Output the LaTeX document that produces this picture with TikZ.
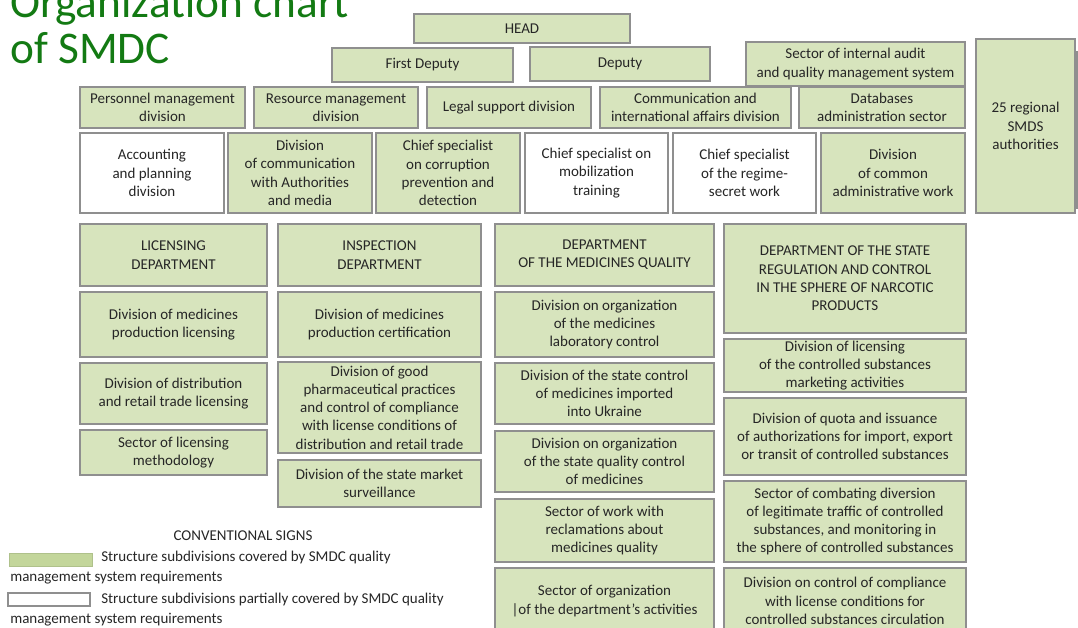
\documentclass[tikz,border=0pt]{standalone}
\usepackage{fontspec}
\setmainfont{Carlito}
\usepackage{tikz}
\definecolor{UnitGreen}{HTML}{D7E4BD}
\definecolor{UnitBorder}{HTML}{8F8F8F}
\definecolor{SignGreen}{HTML}{C3D69B}
\definecolor{TitleGreen}{HTML}{137A13}
\definecolor{InkGray}{HTML}{262626}

\begin{document}
\begin{tikzpicture}[x=0.75pt, y=-0.75pt,
  boxsize/.style 2 args={minimum width=#1*0.75pt, minimum height=#2*0.75pt},
  unit/.style={draw=UnitBorder, line width=1.1pt, fill=UnitGreen, inner sep=0pt,
    align=center, text=InkGray, font=\fontsize{11.25}{13.7}\selectfont},
  partial/.style={unit, fill=white},
  signtext/.style={inner sep=0pt, text=InkGray, font=\fontsize{11.25}{13.7}\selectfont},
  heading/.style={inner sep=0pt, anchor=base west, text=TitleGreen, font=\fontsize{34}{34}\selectfont}]

 \useasboundingbox (0,0) rectangle (1078,628);
 \clip (0,0) rectangle (1078,628);

 \node[heading] (titleTop) at (10,17) {Organization chart};
 \node[heading] (titleBottom) at (10,63) {of SMDC};

 % management
 \node[unit, boxsize={216}{29}] (head) at (522,28.5) {HEAD};
 \node[unit, boxsize={181}{34}] (firstDeputy) at (422.5,65) {First Deputy};
 \node[unit, boxsize={180}{34}] (deputy) at (620,64) {Deputy};
 \node[unit, boxsize={219}{44}] (auditSector) at (855.5,64) {Sector of internal audit\\and quality management system};

 \node[unit, boxsize={165}{41}] (personnel) at (162.5,107.5) {Personnel management\\division};
 \node[unit, boxsize={164}{41}] (resource) at (336,107.5) {Resource management\\division};
 \node[unit, boxsize={164}{41}] (legal) at (509,107.5) {Legal support division};
 \node[unit, boxsize={191}{41}] (communication) at (695.5,107.5) {Communication and\\international affairs division};
 \node[unit, boxsize={166}{41}] (databases) at (882,107.5) {Databases\\administration sector};

 \node[partial, boxsize={144}{80}] (accounting) at (152,173) {Accounting\\and planning\\division};
 \node[unit, boxsize={144}{80}] (authoritiesComm) at (300,173) {Division\\of communication\\with Authorities\\and media};
 \node[unit, boxsize={144}{80}] (corruption) at (448,173) {Chief specialist\\on corruption\\prevention and\\detection};
 \node[partial, boxsize={143}{80}] (mobilization) at (596.5,173) {Chief specialist on\\mobilization\\training};
 \node[partial, boxsize={143}{80}] (regime) at (744.5,173) {Chief specialist\\of the regime-\\secret work};
 \node[unit, boxsize={144}{80}] (commonWork) at (893,173) {Division\\of common\\administrative work};

 \node[unit, boxsize={83}{156}] (regionalNext) at (1118.5,130) {};
 \node[unit, boxsize={99}{174}] (regional) at (1025.5,126) {25 regional\\SMDS\\authorities};

 % departments
 \node[unit, boxsize={187}{62}] (licensing) at (173.5,255) {LICENSING\\DEPARTMENT};
 \node[unit, boxsize={187}{65}] (licProduction) at (173.5,324.5) {Division of medicines\\production licensing};
 \node[unit, boxsize={187}{61}] (licDistribution) at (173.5,393.5) {Division of distribution\\and retail trade licensing};
 \node[unit, boxsize={187}{45}] (licMethodology) at (173.5,452.5) {Sector of licensing\\methodology};

 \node[unit, boxsize={203}{62}] (inspection) at (379.5,255) {INSPECTION\\DEPARTMENT};
 \node[unit, boxsize={203}{65}] (inspCertification) at (379.5,324.5) {Division of medicines\\production certification};
 \node[unit, boxsize={203}{91}] (inspPractices) at (379.5,407.5) {Division of good\\pharmaceutical practices\\and control of compliance\\with license conditions of\\distribution and retail trade};
 \node[unit, boxsize={203}{47}] (inspMarket) at (379.5,483.5) {Division of the state market\\surveillance};

 \node[unit, boxsize={219}{62}] (quality) at (604.5,255) {DEPARTMENT\\OF THE MEDICINES QUALITY};
 \node[unit, boxsize={219}{65}] (qualLab) at (604.5,324.5) {Division on organization\\of the medicines\\laboratory control};
 \node[unit, boxsize={219}{61}] (qualImport) at (604.5,393.5) {Division of the state control\\of medicines imported\\into Ukraine};
 \node[unit, boxsize={219}{61}] (qualControl) at (604.5,461.5) {Division on organization\\of the state quality control\\of medicines};
 \node[unit, boxsize={219}{63}] (qualClaims) at (604.5,530.5) {Sector of work with\\reclamations about\\medicines quality};
 \node[unit, boxsize={219}{66}] (qualActivities) at (604.5,601) {Sector of organization\\|of the department’s activities};

 \node[unit, boxsize={242}{109}] (narcotic) at (845,278.5) {DEPARTMENT OF THE STATE\\REGULATION AND CONTROL\\IN THE SPHERE OF NARCOTIC\\PRODUCTS};
 \node[unit, boxsize={242}{53}] (narcLicensing) at (845,365.5) {Division of licensing\\of the controlled substances\\marketing activities};
 \node[unit, boxsize={242}{77}] (narcQuota) at (845,436.5) {Division of quota and issuance\\of authorizations for import, export\\or transit of controlled substances};
 \node[unit, boxsize={242}{81}] (narcDiversion) at (845,521.5) {Sector of combating diversion\\of legitimate traffic of controlled\\substances, and monitoring in\\the sphere of controlled substances};
 \node[unit, boxsize={242}{66}] (narcCompliance) at (845,601) {Division on control of compliance\\with license conditions for\\controlled substances circulation};

 % conventional signs
 \node[signtext] (signs) at (243,536) {CONVENTIONAL SIGNS};
 \node[draw=SignGreen!90!black, line width=0.4pt, fill=SignGreen, inner sep=0pt, boxsize={83}{13}] (signGreen) at (50.5,559.5) {};
 \node[signtext, anchor=west] (signGreenText) at (101,557) {Structure subdivisions covered by SMDC quality};
 \node[signtext, anchor=west] (signGreenMore) at (10,578) {management system requirements};
 \node[draw=UnitBorder, line width=1.5pt, fill=white, inner sep=0pt, boxsize={82}{13}] (signWhite) at (49,599.5) {};
 \node[signtext, anchor=west] (signWhiteText) at (101,599) {Structure subdivisions partially covered by SMDC quality};
 \node[signtext, anchor=west] (signWhiteMore) at (10,620) {management system requirements};

\end{tikzpicture}
\end{document}
